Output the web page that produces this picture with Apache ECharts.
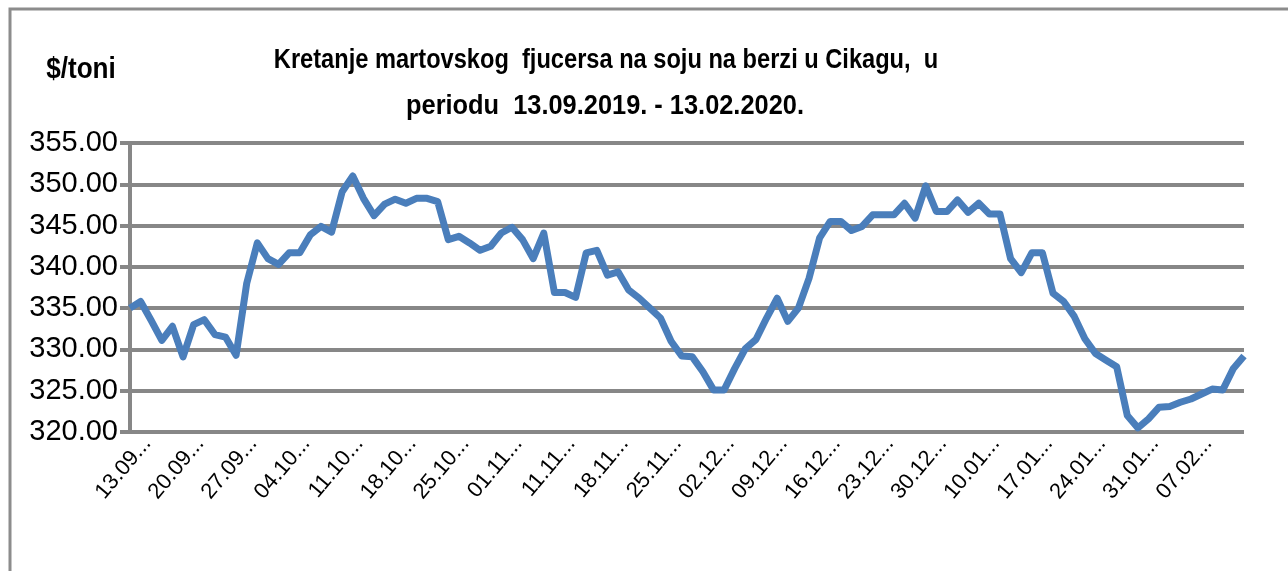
<!DOCTYPE html>
<html>
<head>
<meta charset="utf-8">
<script src="https://cdn.jsdelivr.net/npm/echarts@6/dist/echarts.min.js"></script>
<style>
  html, body { margin: 0; padding: 0; background: #fff; }
  #chart { width: 1288px; height: 571px; }
</style>
</head>
<body>
<div id="chart"></div>
<script>
// tick labels under the x axis, one every 5 trading days
const tickLabels = [
  "13.09", "20.09", "27.09", "04.10", "11.10", "18.10", "25.10", "01.11",
  "11.11", "18.11", "25.11", "02.12", "09.12", "16.12", "23.12", "30.12",
  "10.01", "17.01", "24.01", "31.01", "07.02"
];

// March soybean futures, $/t, 13.09.2019 - 13.02.2020
const prices = [
  335.0, 335.8, 333.5, 331.1, 332.8, 329.1, 333.0, 333.6, 331.8, 331.5,
  329.3, 338.0, 342.9, 341.0, 340.3, 341.7, 341.7, 343.9, 344.9, 344.2,
  349.1, 351.0, 348.3, 346.2, 347.6, 348.2, 347.7, 348.3, 348.3, 347.9,
  343.3, 343.7, 342.9, 342.0, 342.5, 344.1, 344.8, 343.3, 341.0, 344.1,
  336.9, 336.9, 336.3, 341.7, 342.0, 339.0, 339.4, 337.2, 336.2, 335.0,
  333.8, 331.0, 329.2, 329.1, 327.3, 325.1, 325.1, 327.7, 330.1, 331.2,
  333.8, 336.2, 333.4, 335.0, 338.6, 343.5, 345.5, 345.5, 344.4, 344.9,
  346.3, 346.3, 346.3, 347.7, 345.9, 349.8, 346.7, 346.7, 348.1, 346.6,
  347.7, 346.4, 346.4, 341.0, 339.3, 341.7, 341.7, 336.8, 335.8, 334.0,
  331.3, 329.5, 328.7, 327.9, 322.0, 320.5, 321.6, 323.0, 323.1, 323.6,
  324.0, 324.6, 325.2, 325.1, 327.7, 329.2
];

const yMin = 320;
const yMax = 355;
const yStep = 5;

const titleLines = [
  "Kretanje martovskog  fjucersa na soju na berzi u Cikagu,  u",
  "periodu  13.09.2019. - 13.02.2020."
];
const unitLabel = "$/toni";

const categories = prices.map((_, i) => {
  const t = tickLabels[i / 5];
  return i % 5 === 0 && t ? t + "..." : "";
});

const gridGray = "#878787";
const sans = "'Liberation Sans', sans-serif";

var myChart = echarts.init(document.getElementById("chart"));
var option = {
  animation: false,
  graphic: [
    {
      type: "rect",
      shape: { x: 10, y: 9, width: 1300, height: 600 },
      style: { fill: "none", stroke: "#8c8c8c", lineWidth: 3 },
      silent: true
    },
    {
      type: "text",
      x: 81, y: 70, scaleX: 0.9,
      style: {
        text: unitLabel, align: "center", verticalAlign: "middle",
        font: "bold 29px " + sans, fill: "#000"
      }
    },
    {
      type: "text",
      x: 606, y: 61, scaleX: 0.875,
      style: {
        text: titleLines[0], align: "center", verticalAlign: "middle",
        font: "bold 27px " + sans, fill: "#000"
      }
    },
    {
      type: "text",
      x: 605, y: 107, scaleX: 0.94,
      style: {
        text: titleLines[1], align: "center", verticalAlign: "middle",
        font: "bold 27px " + sans, fill: "#000"
      }
    }
  ],
  grid: [
    { left: 130, right: 44, top: 143, bottom: 139 },
    // second grid only carries the slanted date labels, shifted like in Excel
    { left: 147, right: 27, top: 143, bottom: 139 }
  ],
  xAxis: [
    {
      gridIndex: 0,
      type: "category",
      data: categories,
      boundaryGap: false,
      axisLine: { show: false },
      axisTick: { show: false },
      axisLabel: { show: false },
      splitLine: { show: false }
    },
    {
      gridIndex: 1,
      type: "category",
      data: categories,
      boundaryGap: false,
      axisLine: { show: false },
      axisTick: { show: false },
      splitLine: { show: false },
      axisLabel: {
        interval: 4,
        rotate: 50,
        margin: 8,
        color: "#000",
        fontSize: 22,
        fontFamily: sans
      }
    }
  ],
  yAxis: [
    {
      gridIndex: 0,
      type: "value",
      min: yMin,
      max: yMax,
      interval: yStep,
      axisLine: { show: true, lineStyle: { color: gridGray, width: 4 } },
      axisTick: { show: true, length: 10, lineStyle: { color: gridGray, width: 4 } },
      axisLabel: {
        formatter: (v) => v.toFixed(2),
        color: "#000",
        fontSize: 29,
        margin: 12,
        fontFamily: sans
      },
      splitLine: { show: true, lineStyle: { color: gridGray, width: 4 } }
    },
    { gridIndex: 1, type: "value", show: false, min: yMin, max: yMax }
  ],
  series: [
    {
      type: "line",
      xAxisIndex: 0,
      yAxisIndex: 0,
      data: prices,
      showSymbol: false,
      symbol: "none",
      lineStyle: { color: "#4a7ebb", width: 7, join: "round" }
    }
  ]
};

option && myChart.setOption(option);
</script>
</body>
</html>
